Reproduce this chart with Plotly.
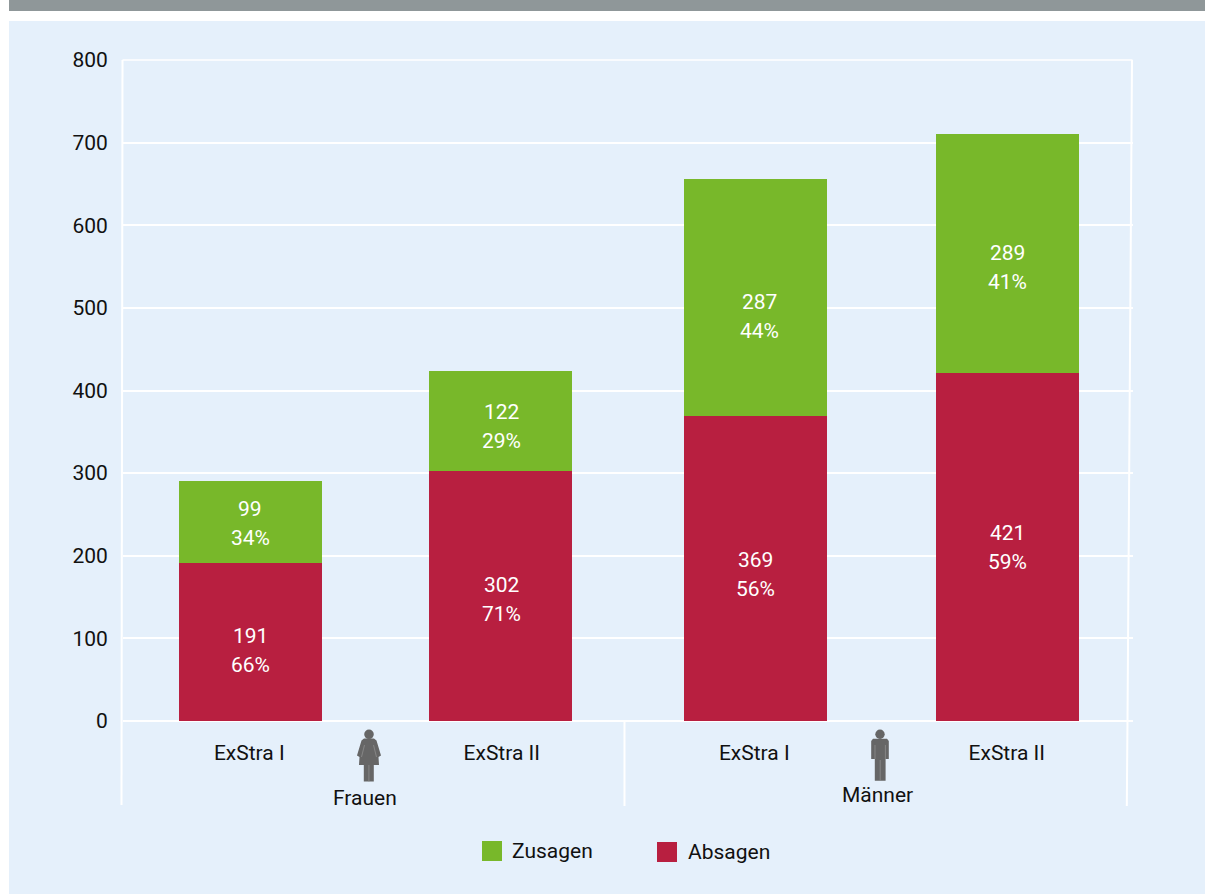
import plotly.graph_objects as go

# ---- data ----
groups = ["Frauen", "Männer"]
programmes = ["ExStra I", "ExStra II", "ExStra I", "ExStra II"]
absagen = [191, 302, 369, 421]
zusagen = [99, 122, 287, 289]
absagen_pct = ["66%", "71%", "56%", "59%"]
zusagen_pct = ["34%", "29%", "44%", "41%"]
y_ticks = [0, 100, 200, 300, 400, 500, 600, 700, 800]

# ---- style ----
W, H = 1205, 894
L, R, T, B = 123, 1133, 60, 721
FONT = "Roboto"
FS = 21
INK = "#111111"
GREEN, RED = "#78b82a", "#b81f40"
PANEL, BAND, ICON, SEAM = "#e5f0fb", "#8f9799", "#666666", "#8e8e8e"
BAR_WIDTH = 0.566
BAR_OFFSET = [-0.277, -0.287, -0.277, -0.279]
RED_SHIFT = [(1, -8), (0, -3), (1, -6), (1, 0)]
GREEN_SHIFT = [(1, -1), (0, -5), (5, -19), (1, -14)]
LINE_GAP = 14.5


def px(x):
    return (x - L) / (R - L)


def py(y):
    return (B - y) / (B - T)


def pts_path(points):
    return "M" + " L".join(f"{px(x):.5f},{py(y):.5f}" for x, y in points)


def pshape(points, color):
    return dict(type="path", xref="paper", yref="paper", path=pts_path(points) + " Z",
                fillcolor=color, line=dict(width=0))


def rect(x0, y0, x1, y1, color, layer="below"):
    return dict(type="rect", xref="paper", yref="paper", x0=px(x0), x1=px(x1),
                y0=py(y0), y1=py(y1), fillcolor=color, line=dict(width=0), layer=layer)


def wline(pts, width=2):
    return dict(type="path", xref="paper", yref="paper", path=pts_path(pts),
                line=dict(color="white", width=width), layer="below")


def seam(pts):
    return dict(type="path", xref="paper", yref="paper", path=pts_path(pts),
                line=dict(color=SEAM, width=0.8))


def circle(cx, cy, r, color):
    return dict(type="circle", xref="paper", yref="paper", x0=px(cx - r), x1=px(cx + r),
                y0=py(cy + r), y1=py(cy - r), fillcolor=color, line=dict(width=0))


def label(x, y, text, anchor="center"):
    return dict(xref="paper", yref="paper", x=px(x), y=py(y), text=text, showarrow=False,
                xanchor=anchor, yanchor="middle", font=dict(family=FONT, size=FS, color=INK))


xs = list(range(len(programmes)))
fig = go.Figure()
fig.add_bar(x=xs, y=absagen, name="Absagen", marker=dict(color=RED, line=dict(width=0)),
            width=BAR_WIDTH, offset=BAR_OFFSET)
fig.add_bar(x=xs, y=zusagen, name="Zusagen", marker=dict(color=GREEN, line=dict(width=0)),
            width=BAR_WIDTH, offset=BAR_OFFSET)

annotations = []
for i in xs:
    for mid, value, pct, shift in (
        (absagen[i] / 2, absagen[i], absagen_pct[i], RED_SHIFT[i]),
        (absagen[i] + zusagen[i] / 2, zusagen[i], zusagen_pct[i], GREEN_SHIFT[i]),
    ):
        for text, gap in ((str(value), LINE_GAP), (pct, -LINE_GAP)):
            annotations.append(dict(x=i, y=mid, xref="x", yref="y", text=text, showarrow=False,
                                    xshift=shift[0], yshift=shift[1] + gap,
                                    font=dict(family=FONT, size=FS, color="white")))
annotations += [
    label(365, 798, groups[0]),
    label(877, 795, groups[1]),
    label(510, 851, "Zusagen", "left"),
    label(686, 852, "Absagen", "left"),
]

shapes = [
    rect(9, 0, W, 11, BAND),
    rect(9, 21, W, H, PANEL),
    wline([(122.5, T), (1132.5, T)], 1.6),
    wline([(122.5, T), (121.5, 805)]),
    wline([(624.5, B), (624.5, 806)]),
    wline([(1132, T), (1127.5, B), (1126.8, 806)]),
    # legend swatches
    rect(482, 841, 502, 861, GREEN, "above"),
    rect(657, 842, 677, 862, RED, "above"),
    # woman
    circle(369, 734.3, 4.8, ICON),
    pshape([(364, 738.5), (374, 738.5), (376.5, 740.5), (381, 755.5), (378.5, 757), (379, 765),
            (373.8, 765), (373.8, 781.5), (363.8, 781.5), (363.8, 765), (359, 765),
            (359.5, 757), (357, 755.5), (361.5, 740.5)], ICON),
    seam([(364.5, 745), (361.5, 757)]),
    seam([(373.5, 745), (376.5, 757)]),
    seam([(368.9, 765), (368.9, 781.5)]),
    # man
    circle(880, 734.3, 4.7, ICON),
    pshape([(873, 738.8), (887, 738.8), (888.8, 741), (888.8, 759), (885.6, 759), (885.6, 780.7),
            (874.8, 780.7), (874.8, 759), (871.2, 759), (871.2, 741)], ICON),
    seam([(880.2, 760), (880.2, 780.7)]),
    seam([(875, 745), (875, 759)]),
    seam([(885.4, 745), (885.4, 759)]),
]

fig.update_layout(
    width=W, height=H, barmode="stack", showlegend=False,
    margin=dict(l=L, r=W - R, t=T, b=H - B, pad=0),
    paper_bgcolor="white", plot_bgcolor="rgba(0,0,0,0)",
    font=dict(family=FONT, size=FS, color=INK),
    shapes=shapes, annotations=annotations,
    xaxis=dict(range=[-0.5, 3.5], tickmode="array", tickvals=xs, ticktext=programmes,
               showgrid=False, zeroline=False, showline=False, ticks="outside", ticklen=13,
               tickcolor="rgba(0,0,0,0)", tickfont=dict(family=FONT, size=FS, color=INK)),
    yaxis=dict(range=[0, 800], tickmode="array", tickvals=y_ticks, showgrid=True,
               gridcolor="white", gridwidth=1.5, zeroline=True, zerolinecolor="white",
               zerolinewidth=2, showline=False, ticks="outside", ticklen=10,
               tickcolor="rgba(0,0,0,0)", tickfont=dict(family=FONT, size=FS, color=INK)),
)

fig.write_html("out.html", config=dict(displayModeBar=False),
               post_script="document.body.style.margin='0';document.body.style.overflow='hidden';")
